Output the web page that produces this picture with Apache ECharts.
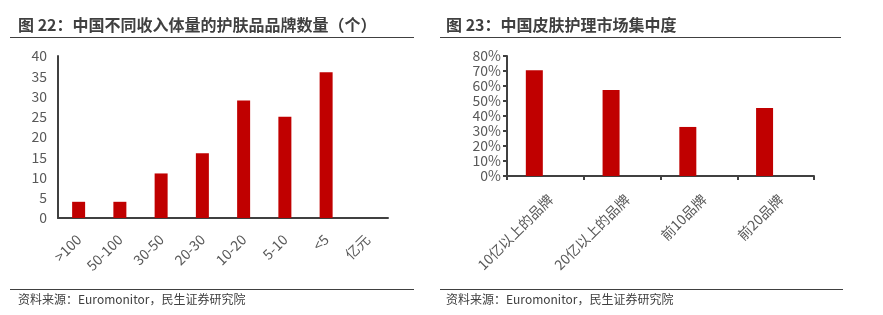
<!DOCTYPE html>
<html>
<head>
<meta charset="utf-8">
<script src="https://cdn.jsdelivr.net/npm/echarts@6/dist/echarts.min.js"></script>
<style>
html,body{margin:0;padding:0;background:#fff;}
#c{width:883px;height:315px;}
</style>
</head>
<body>
<div id="c"></div>
<script>
// Left chart: number of skincare brands by revenue size (亿元)
var leftCategories = ['>100', '50-100', '30-50', '20-30', '10-20', '5-10', '<5', '亿元'];
var leftValues = [4, 4, 11, 16, 29, 25, 36, null];
var leftTicks = [0, 5, 10, 15, 20, 25, 30, 35, 40];

// Right chart: market concentration
var rightCategories = ['10亿以上的品牌', '20亿以上的品牌', '前10品牌', '前20品牌'];
var rightValues = [0.705, 0.573, 0.327, 0.453];
var rightTicks = ['0%', '10%', '20%', '30%', '40%', '50%', '60%', '70%', '80%'];

var leftTitle = '图 22：中国不同收入体量的护肤品品牌数量（个）';
var rightTitle = '图 23：中国皮肤护理市场集中度';
var sourceText = '资料来源：Euromonitor，民生证券研究院';

var FONT = '"Noto Sans CJK SC", "Noto Sans", sans-serif';
var LABEL = '#595959';
var AXIS = '#404040';
var RED = '#C00000';

var chart = echarts.init(document.getElementById('c'), null, {renderer: 'canvas'});

var option = {
  animation: false,
  backgroundColor: '#fff',
  textStyle: {fontFamily: FONT},
  grid: [
    {left: 58, top: 56, width: 330, height: 162},
    {left: 507, top: 56, width: 307, height: 120}
  ],
  xAxis: [
    {
      gridIndex: 0, type: 'category', data: leftCategories,
      axisLine: {lineStyle: {color: AXIS, width: 2}},
      axisTick: {show: false},
      axisLabel: {rotate: 45, color: LABEL, fontSize: 14, margin: 19, fontFamily: FONT, interval: 0}
    },
    {
      gridIndex: 1, type: 'category', data: rightCategories,
      axisLine: {lineStyle: {color: AXIS, width: 2}},
      axisTick: {show: true, length: 4, lineStyle: {color: AXIS, width: 2}},
      axisLabel: {rotate: 45, color: LABEL, fontSize: 14, margin: 16, verticalAlign: 'top', fontFamily: FONT, interval: 0}
    }
  ],
  yAxis: [
    {
      gridIndex: 0, type: 'value', min: 0, max: 40, interval: 5,
      axisLine: {show: true, lineStyle: {color: AXIS, width: 2}},
      axisTick: {show: false},
      splitLine: {show: false},
      axisLabel: {color: LABEL, fontSize: 14, margin: 11, fontFamily: FONT,
        formatter: function (v) { return leftTicks.indexOf(v) >= 0 ? String(v) : ''; }}
    },
    {
      gridIndex: 1, type: 'value', min: 0, max: 0.8, interval: 0.1,
      axisLine: {show: true, lineStyle: {color: AXIS, width: 2}},
      axisTick: {show: true, length: 4, lineStyle: {color: AXIS, width: 2}},
      splitLine: {show: false},
      axisLabel: {color: LABEL, fontSize: 14, margin: 6, fontFamily: FONT,
        formatter: function (v) { return rightTicks[Math.round(v * 10)]; }}
    }
  ],
  series: [
    {
      type: 'bar', xAxisIndex: 0, yAxisIndex: 0, data: leftValues,
      barWidth: 13, itemStyle: {color: RED}
    },
    {
      type: 'bar', xAxisIndex: 1, yAxisIndex: 1, data: rightValues,
      barWidth: 17, barGap: '30%', itemStyle: {color: RED}
    },
    {
      type: 'bar', xAxisIndex: 1, yAxisIndex: 1, data: [],
      barWidth: 17, barGap: '30%', itemStyle: {color: RED}
    }
  ],
  graphic: [
    {type: 'text', left: 18, top: 17, style: {text: leftTitle, font: 'bold 16px ' + FONT, fill: '#404040'}},
    {type: 'text', left: 446, top: 17, style: {text: rightTitle, font: 'bold 16px ' + FONT, fill: '#404040'}},
    {type: 'line', shape: {x1: 10, y1: 37.5, x2: 414, y2: 37.5}, style: {stroke: '#404040', lineWidth: 1}},
    {type: 'line', shape: {x1: 440, y1: 37.5, x2: 841, y2: 37.5}, style: {stroke: '#404040', lineWidth: 1}},
    {type: 'line', shape: {x1: 10, y1: 289.5, x2: 414, y2: 289.5}, style: {stroke: '#404040', lineWidth: 1}},
    {type: 'line', shape: {x1: 440, y1: 289.5, x2: 843, y2: 289.5}, style: {stroke: '#404040', lineWidth: 1}},
    {type: 'text', left: 18, top: 293, style: {text: sourceText, font: '12px ' + FONT, fill: '#404040'}},
    {type: 'text', left: 446, top: 293, style: {text: sourceText, font: '12px ' + FONT, fill: '#404040'}}
  ]
};

chart.setOption(option);
</script>
</body>
</html>
